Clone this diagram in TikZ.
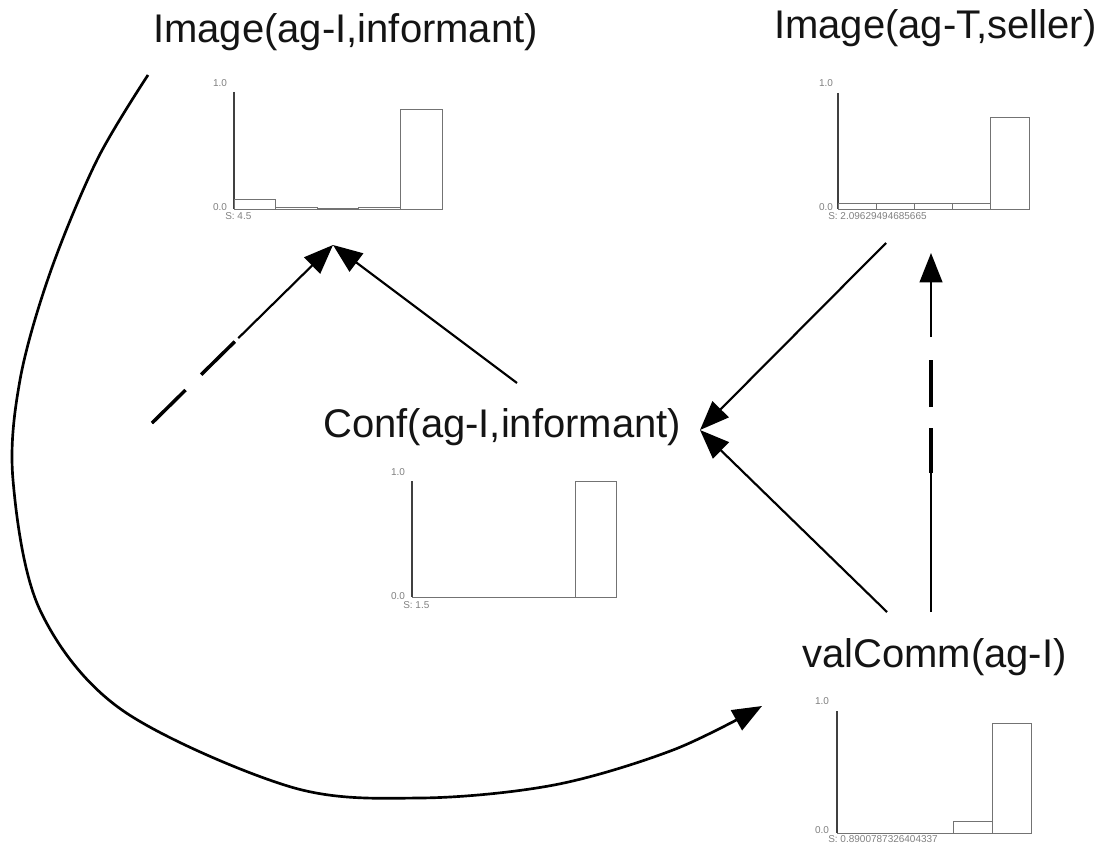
\documentclass[tikz,border=0pt]{standalone}
\usepackage{fontspec}
\setmainfont{Liberation Sans}
\usetikzlibrary{arrows.meta}
\begin{document}
\begin{tikzpicture}[x=0.75pt,y=-0.75pt,
  lbl/.style={font=\fontsize{30}{32}\selectfont, inner sep=0pt, anchor=base west, text=black!92},
  tiny/.style={font=\fontsize{7.5}{8}\selectfont, text=black!50, inner sep=0pt},
  axisline/.style={draw=black!75, line width=1.3pt},
  bar/.style={draw=black!55, line width=0.7pt},
  edge/.style={line width=1.6pt, -{Triangle[length=22pt,width=17pt]}},
  thickdash/.style={line width=2.6pt},
  curve/.style={line width=2pt, -{Triangle[length=22pt,width=17pt]}}
]
\useasboundingbox (0,0) rectangle (1106,845);

% ---- node labels
\node[lbl] (imgI) at (153,43) {Image(ag-I,informant)};
\node[lbl] (imgT) at (774,39) {Image(ag-T,seller)};
\node[lbl] (conf) at (323,437) {Conf(ag-I,informant)};
\node[lbl] (val)  at (802,667) {valComm(ag-I)};

% ---- histogram: Image(ag-I,informant)
\draw[axisline] (234,92) -- (234,209);
\draw[bar] (234,209) rectangle (275.6,199);
\draw[bar] (275.6,209) rectangle (317.2,207);
\draw[bar] (317.2,209) rectangle (358.8,208);
\draw[bar] (358.8,209) rectangle (400.4,207);
\draw[bar] (400.4,209) rectangle (442,109);
\node[tiny] (hIa) at (220,83) {1.0};
\node[tiny] (hIb) at (220,207) {0.0};
\node[tiny, anchor=west] (hIc) at (225,216) {S: 4.5};

% ---- histogram: Image(ag-T,seller)
\draw[axisline] (838,93) -- (838,209);
\draw[bar] (838,209) rectangle (876.2,203);
\draw[bar] (876.2,209) rectangle (914.4,203);
\draw[bar] (914.4,209) rectangle (952.6,203);
\draw[bar] (952.6,209) rectangle (990.8,203);
\draw[bar] (990.8,209) rectangle (1029,117);
\node[tiny] (hTa) at (826,83) {1.0};
\node[tiny] (hTb) at (826,207) {0.0};
\node[tiny, anchor=west] (hTc) at (828,216) {S: 2.09629494685665};

% ---- histogram: Conf(ag-I,informant)
\draw[axisline] (412,481) -- (412,597);
\draw[bar] (412,597) -- (575.2,597);
\draw[bar] (575.2,597) rectangle (616,481);
\node[tiny] (hCa) at (398,472) {1.0};
\node[tiny] (hCb) at (398,596) {0.0};
\node[tiny, anchor=west] (hCc) at (403,605) {S: 1.5};

% ---- histogram: valComm(ag-I)
\draw[axisline] (837,711) -- (837,833);
\draw[bar] (837,833) -- (953.4,833);
\draw[bar] (953.4,833) rectangle (992.2,821);
\draw[bar] (992.2,833) rectangle (1031,723);
\node[tiny] (hVa) at (822,701) {1.0};
\node[tiny] (hVb) at (822,830) {0.0};
\node[tiny, anchor=west] (hVc) at (828,839) {S: 0.8900787326404337};

% ---- connector end points
\coordinate (imgIin)  at (333,245);
\coordinate (imgIout) at (148,75);
\coordinate (imgTin)  at (931,253);
\coordinate (imgTout) at (886,243);
\coordinate (confin)  at (700,430);
\coordinate (confout) at (517,383);
\coordinate (valout1) at (887,612);
\coordinate (valout2) at (931,612);
\coordinate (valin)   at (762,706);
\coordinate (loose)   at (152,423);

% ---- solid connectors
\draw[edge] (confout) -- (imgIin);
\draw[edge] (imgTout) -- (confin);
\draw[edge] (valout1) -- (confin);

% ---- dashed connectors
\draw[edge, dash pattern=on 35.25pt off 16.5pt on 35.25pt off 3.75pt on 400pt] (loose) -- (imgIin);
\draw[thickdash, dash pattern=on 35.25pt off 16.5pt on 35.25pt off 1000pt] (loose) -- (imgIin);
\draw[edge, dash pattern=on 138pt off 15.75pt on 35.25pt off 17.25pt on 400pt] (valout2) -- (imgTin);
\draw[thickdash, dash pattern=on 0pt off 104.25pt on 33.75pt off 15.75pt on 35.25pt off 1000pt] (valout2) -- (imgTin);

% ---- long curved connector
\draw[curve] plot[smooth, tension=0.55] coordinates {(imgIout) (97,160) (50,273) (20,380) (13,480) (40,610) (122,710) (291,787) (420,798) (554,785) (673,750) (valin)};
\end{tikzpicture}
\end{document}
